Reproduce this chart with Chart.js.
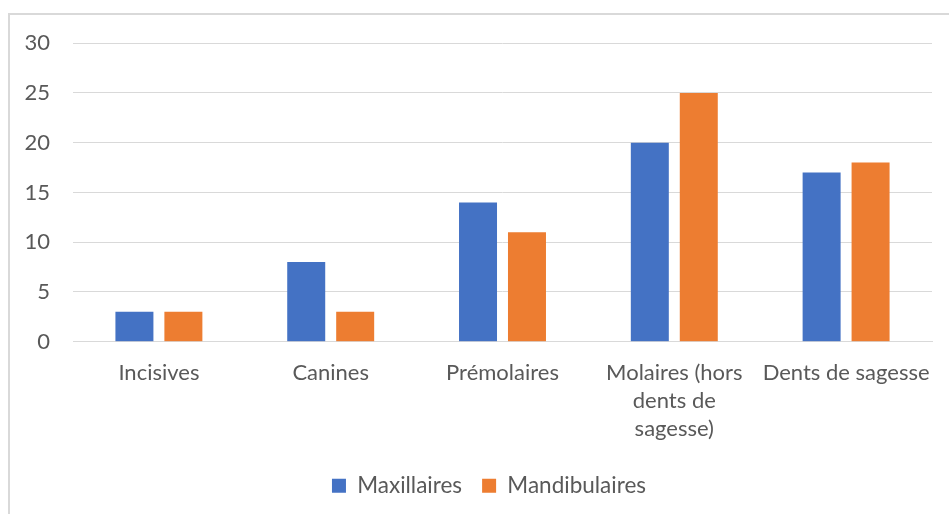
<!DOCTYPE html>
<html>
<head>
<meta charset="utf-8">
<script src="https://cdn.jsdelivr.net/npm/chart.js@4/dist/chart.umd.min.js"></script>
<style>
  html, body { margin: 0; padding: 0; background: #fff; overflow: hidden; }
  #frame {
    position: absolute; left: 8px; top: 13px; width: 950px; height: 520px;
    border: 2px solid #d9d9d9; box-sizing: border-box;
  }
  #wrap { position: absolute; left: 10px; top: 7px; width: 941px; height: 509px; }
</style>
</head>
<body>
<div id="frame"></div>
<div id="wrap"><canvas id="chart"></canvas></div>
<script>
// Categories (multi-line labels as arrays)
const categories = [
  "Incisives",
  "Canines",
  "Prémolaires",
  ["Molaires (hors", "dents de", "sagesse)"],
  "Dents de sagesse",
];
const maxillaires = [3, 8, 14, 20, 17];
const mandibulaires = [3, 3, 11, 25, 18];
const yTicks = [0, 5, 10, 15, 20, 25, 30];

Chart.defaults.font.family = "Lato, 'Open Sans', sans-serif";
Chart.defaults.color = "#595959";

// Legend is centred on the whole frame in the original, not on the plot
const legendShift = {
  id: "legendShift",
  afterLayout(chart) {
    const lg = chart.legend;
    lg.left += 18;
    lg.right += 18;
    lg.top += 3;
    lg.bottom += 3;
  },
};

const ctx = document.getElementById("chart").getContext("2d");
new Chart(ctx, {
  type: "bar",
  data: {
    labels: categories,
    datasets: [
      { label: "Maxillaires", data: maxillaires, backgroundColor: "#4472C4" },
      { label: "Mandibulaires", data: mandibulaires, backgroundColor: "#ED7D31" },
    ],
  },
  options: {
    responsive: true,
    maintainAspectRatio: false,
    animation: false,
    categoryPercentage: 0.57,
    barPercentage: 0.776,
    layout: { padding: { left: 0, right: 19, top: 1, bottom: 12 } },
    plugins: {
      tooltip: { enabled: false },
      legend: {
        position: "bottom",
        labels: {
          boxWidth: 14,
          boxHeight: 14,
          padding: 20,
          font: { size: 22.5 },
          color: "#595959",
        },
      },
    },
    scales: {
      x: {
        grid: { display: false },
        border: { color: "#d9d9d9", width: 1 },
        ticks: { font: { size: 22, lineHeight: 1.27 }, color: "#595959", maxRotation: 0, padding: 9 },
      },
      y: {
        min: 0,
        max: 30,
        afterBuildTicks: (scale) => { scale.ticks = yTicks.map((v) => ({ value: v })); },
        afterFit: (scale) => { scale.width = 63; },
        grid: { color: "#d9d9d9", drawTicks: false },
        border: { display: false },
        ticks: { font: { size: 22 }, color: "#595959", padding: 23 },
      },
    },
  },
  plugins: [legendShift],
});
</script>
</body>
</html>
